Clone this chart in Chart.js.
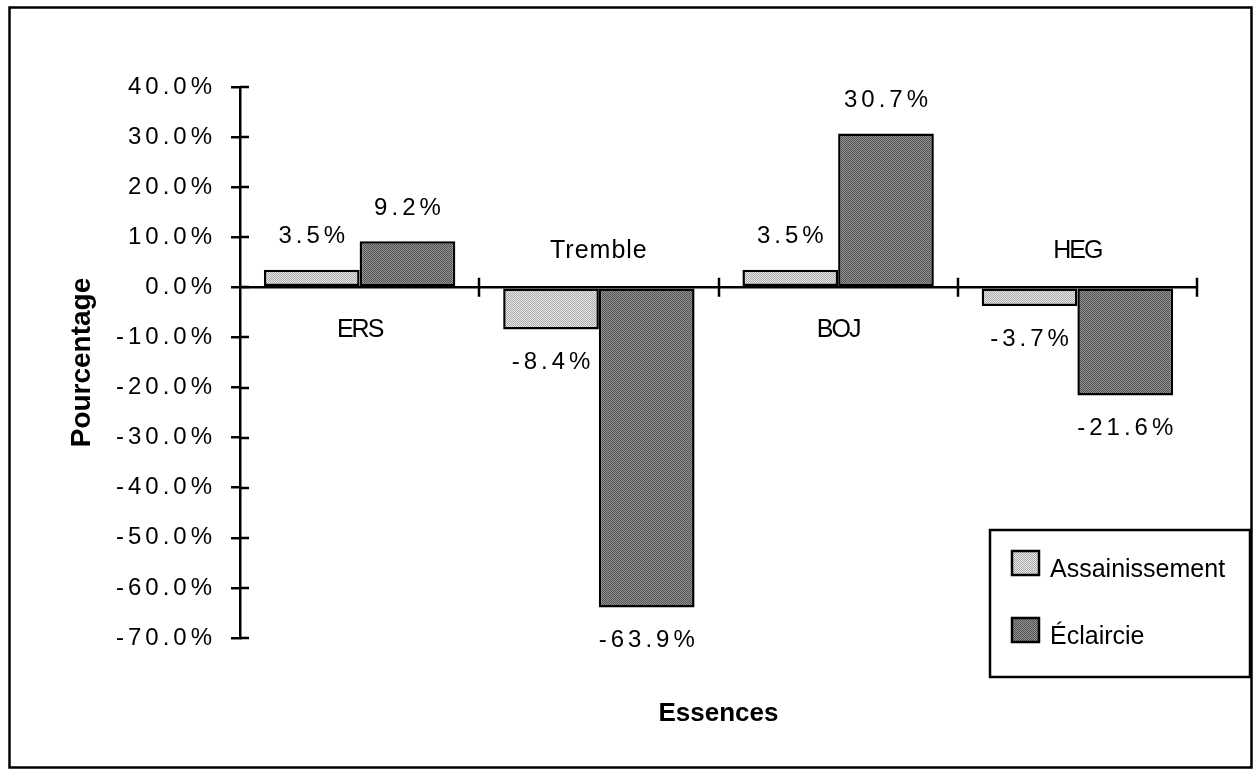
<!DOCTYPE html>
<html>
<head>
<meta charset="utf-8">
<script src="https://cdn.jsdelivr.net/npm/chart.js@4.4.1/dist/chart.umd.min.js"></script>
<style>
  html, body { margin: 0; padding: 0; background: #fff; }
  canvas { display: block; }
</style>
</head>
<body>
<canvas id="chart" width="1255" height="770"></canvas>
<script>
// Variation par essence, en pourcentage
const categories = ['ERS', 'Tremble', 'BOJ', 'HEG'];
const assainissement = [3.5, -8.4, 3.5, -3.7];
const eclaircie = [9.2, -63.9, 30.7, -21.6];
const seriesNames = ['Assainissement', 'Éclaircie'];
const yTickValues = [40, 30, 20, 10, 0, -10, -20, -30, -40, -50, -60, -70];

const FONT = '"Liberation Sans", Arial, Helvetica, sans-serif';
Chart.defaults.font.family = FONT;
Chart.defaults.color = '#000';

const canvas = document.getElementById('chart');
const ctx2d = canvas.getContext('2d');

// stippled grey fills
function stipple(base, dot) {
  const t = document.createElement('canvas');
  t.width = 2; t.height = 2;
  const g = t.getContext('2d');
  g.fillStyle = base; g.fillRect(0, 0, 2, 2);
  g.fillStyle = dot; g.fillRect(0, 0, 1, 1); g.fillRect(1, 1, 1, 1);
  return ctx2d.createPattern(t, 'repeat');
}
const lightFill = stipple('#e6e6e6', '#acacac');
const darkFill = stipple('#939393', '#525252');

const fmt = v => v.toFixed(1) + '%';

const decorations = {
  id: 'decorations',
  afterDatasetsDraw(chart) {
    // y tick labels are drawn after this hook (ticks.z = 1), spaced out
    chart.ctx.letterSpacing = '4px';
  },
  afterDraw(chart) {
    const ctx = chart.ctx;
    ctx.letterSpacing = '0px';
    const xs = chart.scales.x, ys = chart.scales.y, area = chart.chartArea;
    const y0 = ys.getPixelForValue(0);

    ctx.save();
    ctx.strokeStyle = '#000';
    ctx.lineWidth = 2.5;
    ctx.beginPath();
    // inner half of the y tick marks
    yTickValues.forEach(v => {
      const py = Math.round(ys.getPixelForValue(v));
      ctx.moveTo(area.left, py);
      ctx.lineTo(area.left + 9, py);
    });
    // category separators on the zero line
    const half = (xs.getPixelForValue(1) - xs.getPixelForValue(0)) / 2;
    categories.forEach((c, i) => {
      const px = Math.round(xs.getPixelForValue(i) + half);
      ctx.moveTo(px, y0 - 9.5);
      ctx.lineTo(px, y0 + 9.5);
    });
    ctx.stroke();

    // category names, on the side opposite to the bars
    ctx.fillStyle = '#000';
    ctx.textAlign = 'center';
    ctx.textBaseline = 'middle';
    ctx.font = '25px ' + FONT;
    categories.forEach((c, i) => {
      const above = assainissement[i] < 0;
      ctx.letterSpacing = c === 'Tremble' ? '1px' : '-2px';
      ctx.fillText(c, xs.getPixelForValue(i), above ? y0 - 36 : y0 + 43);
    });

    // value labels
    ctx.font = '24px ' + FONT;
    ctx.letterSpacing = '4px';
    chart.data.datasets.forEach((ds, di) => {
      chart.getDatasetMeta(di).data.forEach((bar, i) => {
        const v = ds.data[i];
        const py = v >= 0 ? bar.y - 33 : bar.y + 33;
        ctx.fillText(fmt(v), bar.x + 2, py);
      });
    });
    ctx.letterSpacing = '0px';

    // legend box
    const lx = 990, ly = 530, lw = 260, lh = 147;
    ctx.lineWidth = 2.5;
    ctx.strokeRect(lx, ly, lw, lh);
    ctx.font = '25px ' + FONT;
    ctx.textAlign = 'left';
    ctx.textBaseline = 'alphabetic';
    chart.data.datasets.forEach((ds, di) => {
      const sy = ly + 21 + di * 67;
      ctx.fillStyle = ds.backgroundColor;
      ctx.fillRect(lx + 22, sy, 27, 24);
      ctx.lineWidth = 2.5;
      ctx.strokeRect(lx + 22, sy, 27, 24);
      ctx.fillStyle = '#000';
      ctx.fillText(ds.label, lx + 60, sy + 26);
    });

    // outer frame
    ctx.lineWidth = 2.5;
    ctx.strokeRect(9.5, 7.5, 1242, 760);
    ctx.restore();
  }
};

new Chart(canvas, {
  type: 'bar',
  data: {
    labels: categories,
    datasets: [
      {
        label: seriesNames[0],
        data: assainissement,
        backgroundColor: lightFill,
        borderColor: '#000',
        borderWidth: 2.5,
        borderSkipped: false
      },
      {
        label: seriesNames[1],
        data: eclaircie,
        backgroundColor: darkFill,
        borderColor: '#000',
        borderWidth: 2.5,
        borderSkipped: false
      }
    ]
  },
  options: {
    responsive: false,
    animation: false,
    events: [],
    categoryPercentage: 0.8,
    barPercentage: 1.0,
    layout: { padding: { left: 20, right: 58, top: 87, bottom: 40.4 } },
    plugins: {
      legend: { display: false },
      tooltip: { enabled: false }
    },
    scales: {
      x: {
        position: 'bottom',
        grid: { display: false },
        border: { display: false },
        ticks: { display: false },
        title: {
          display: true,
          text: 'Essences',
          font: { size: 26, weight: 'bold', family: FONT },
          color: '#000',
          padding: 0
        },
        afterFit(s) { s.height = 91.6; }
      },
      y: {
        min: -70,
        max: 40,
        afterBuildTicks(s) { s.ticks = yTickValues.map(v => ({ value: v })); },
        grid: {
          color: c => (c.tick && c.tick.value === 0 ? '#000' : 'rgba(0,0,0,0)'),
          lineWidth: 2.5,
          drawTicks: true,
          tickLength: 9,
          tickColor: '#000',
          tickWidth: 2.5
        },
        border: { display: true, color: '#000', width: 2.5 },
        ticks: {
          z: 1,
          padding: 15,
          font: { size: 24, family: FONT },
          color: '#000',
          callback: v => fmt(v)
        },
        title: {
          display: true,
          text: 'Pourcentage',
          font: { size: 28, weight: 'bold', family: FONT },
          color: '#000',
          padding: { top: 45.2, bottom: 0 }
        },
        afterFit(s) { s.width = 220; }
      }
    }
  },
  plugins: [decorations]
});
</script>
</body>
</html>
